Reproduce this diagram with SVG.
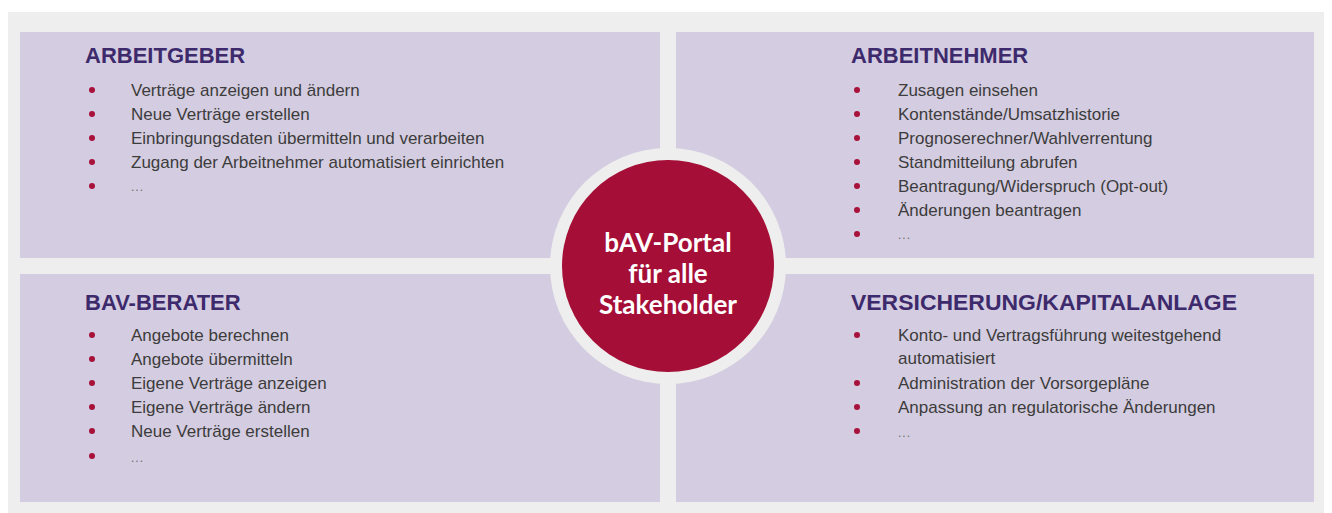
<svg xmlns="http://www.w3.org/2000/svg" width="1332" height="513" viewBox="0 0 1332 513">
  <style>
    .panel { fill: #d4cce0; }
    .title { font-family: "Liberation Sans", Arial, sans-serif; font-weight: bold; font-size: 22px; fill: #3d2a6c; }
    .item { font-family: "Liberation Sans", Arial, sans-serif; font-size: 17px; fill: #3c3c3c; }
    .more { font-family: "Liberation Sans", Arial, sans-serif; font-size: 12px; fill: #6a6a6a; letter-spacing: 1px; }
    .dot { fill: #a8123a; }
    .hub { font-family: Lato, "Open Sans", sans-serif; font-weight: bold; font-size: 26px; fill: #ffffff; text-anchor: middle; }
  </style>

  <rect x="0" y="0" width="1332" height="513" fill="#ffffff"/>
  <rect x="8" y="12" width="1316" height="501" fill="#eeeeee"/>

  <!-- top left -->
  <g id="arbeitgeber">
    <rect class="panel" x="20" y="32" width="640" height="226"/>
    <text class="title" x="85" y="63">ARBEITGEBER</text>
    <circle class="dot" cx="92" cy="90" r="3"/>
    <text class="item" x="131" y="96">Verträge anzeigen und ändern</text>
    <circle class="dot" cx="92" cy="114" r="3"/>
    <text class="item" x="131" y="120">Neue Verträge erstellen</text>
    <circle class="dot" cx="92" cy="138" r="3"/>
    <text class="item" x="131" y="144">Einbringungsdaten übermitteln und verarbeiten</text>
    <circle class="dot" cx="92" cy="162" r="3"/>
    <text class="item" x="131" y="168">Zugang der Arbeitnehmer automatisiert einrichten</text>
    <circle class="dot" cx="92" cy="186" r="3"/>
    <text class="more" x="131" y="191">...</text>
  </g>

  <!-- top right -->
  <g id="arbeitnehmer">
    <rect class="panel" x="676" y="32" width="638" height="226"/>
    <text class="title" x="851" y="63">ARBEITNEHMER</text>
    <circle class="dot" cx="857" cy="90" r="3"/>
    <text class="item" x="898" y="96">Zusagen einsehen</text>
    <circle class="dot" cx="857" cy="114" r="3"/>
    <text class="item" x="898" y="120">Kontenstände/Umsatzhistorie</text>
    <circle class="dot" cx="857" cy="138" r="3"/>
    <text class="item" x="898" y="144">Prognoserechner/Wahlverrentung</text>
    <circle class="dot" cx="857" cy="162" r="3"/>
    <text class="item" x="898" y="168">Standmitteilung abrufen</text>
    <circle class="dot" cx="857" cy="186" r="3"/>
    <text class="item" x="898" y="192">Beantragung/Widerspruch (Opt-out)</text>
    <circle class="dot" cx="857" cy="210" r="3"/>
    <text class="item" x="898" y="216">Änderungen beantragen</text>
    <circle class="dot" cx="857" cy="234" r="3"/>
    <text class="more" x="898" y="239">...</text>
  </g>

  <!-- bottom left -->
  <g id="bav-berater">
    <rect class="panel" x="20" y="274" width="640" height="228"/>
    <text class="title" x="85" y="310">BAV-BERATER</text>
    <circle class="dot" cx="92" cy="335" r="3"/>
    <text class="item" x="131" y="341">Angebote berechnen</text>
    <circle class="dot" cx="92" cy="359" r="3"/>
    <text class="item" x="131" y="365">Angebote übermitteln</text>
    <circle class="dot" cx="92" cy="383" r="3"/>
    <text class="item" x="131" y="389">Eigene Verträge anzeigen</text>
    <circle class="dot" cx="92" cy="407" r="3"/>
    <text class="item" x="131" y="413">Eigene Verträge ändern</text>
    <circle class="dot" cx="92" cy="431" r="3"/>
    <text class="item" x="131" y="437">Neue Verträge erstellen</text>
    <circle class="dot" cx="92" cy="456" r="3"/>
    <text class="more" x="131" y="462">...</text>
  </g>

  <!-- bottom right -->
  <g id="versicherung">
    <rect class="panel" x="676" y="274" width="638" height="228"/>
    <text class="title" x="851" y="310" textLength="386" lengthAdjust="spacingAndGlyphs">VERSICHERUNG/KAPITALANLAGE</text>
    <circle class="dot" cx="857" cy="335" r="3"/>
    <text class="item" x="898" y="341">Konto- und Vertragsführung weitestgehend</text>
    <text class="item" x="898" y="364">automatisiert</text>
    <circle class="dot" cx="857" cy="383" r="3"/>
    <text class="item" x="898" y="389">Administration der Vorsorgepläne</text>
    <circle class="dot" cx="857" cy="407" r="3"/>
    <text class="item" x="898" y="413">Anpassung an regulatorische Änderungen</text>
    <circle class="dot" cx="857" cy="431" r="3"/>
    <text class="more" x="898" y="437">...</text>
  </g>

  <!-- centre hub -->
  <g id="portal">
    <circle cx="668" cy="266" r="118" fill="#eeeeee"/>
    <circle cx="668" cy="266" r="106" fill="#a50e36"/>
    <text class="hub" x="668" y="252">bAV-Portal</text>
    <text class="hub" x="668" y="283">für alle</text>
    <text class="hub" x="668" y="314">Stakeholder</text>
  </g>

  <g id="connectors"></g>
</svg>
